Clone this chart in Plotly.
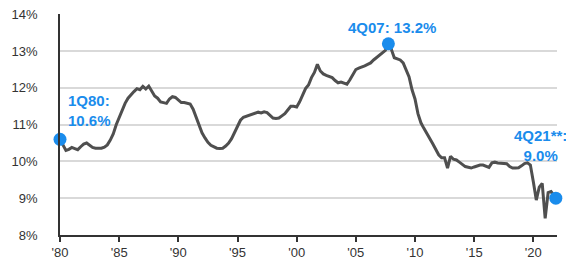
import plotly.graph_objects as go

# Quarter dates (decimal years) and debt service ratio values (%)
dates = [
    1980.0, 1980.25, 1980.5, 1980.75, 1981.0, 1981.25, 1981.5, 1981.75,
    1982.0, 1982.25, 1982.5, 1982.75, 1983.0, 1983.25, 1983.5, 1983.75,
    1984.0, 1984.25, 1984.5, 1984.75, 1985.0, 1985.25, 1985.5, 1985.75,
    1986.0, 1986.25, 1986.5, 1986.75, 1987.0, 1987.25, 1987.5, 1987.75,
    1988.0, 1988.25, 1988.5, 1988.75, 1989.0, 1989.25, 1989.5, 1989.75,
    1990.0, 1990.25, 1990.5, 1990.75, 1991.0, 1991.25, 1991.5, 1991.75,
    1992.0, 1992.25, 1992.5, 1992.75, 1993.0, 1993.25, 1993.5, 1993.75,
    1994.0, 1994.25, 1994.5, 1994.75, 1995.0, 1995.25, 1995.5, 1995.75,
    1996.0, 1996.25, 1996.5, 1996.75, 1997.0, 1997.25, 1997.5, 1997.75,
    1998.0, 1998.25, 1998.5, 1998.75, 1999.0, 1999.25, 1999.5, 1999.75,
    2000.0, 2000.25, 2000.5, 2000.75, 2001.0, 2001.25, 2001.5, 2001.75,
    2002.0, 2002.25, 2002.5, 2002.75, 2003.0, 2003.25, 2003.5, 2003.75,
    2004.0, 2004.25, 2004.5, 2004.75, 2005.0, 2005.25, 2005.5, 2005.75,
    2006.0, 2006.25, 2006.5, 2006.75, 2007.0, 2007.25, 2007.5, 2007.75,
    2008.0, 2008.25, 2008.5, 2008.75, 2009.0, 2009.25, 2009.5, 2009.75,
    2010.0, 2010.25, 2010.5, 2010.75, 2011.0, 2011.25, 2011.5, 2011.75,
    2012.0, 2012.25, 2012.5, 2012.75, 2013.0, 2013.25, 2013.5, 2013.75,
    2014.0, 2014.25, 2014.5, 2014.75, 2015.0, 2015.25, 2015.5, 2015.75,
    2016.0, 2016.25, 2016.5, 2016.75, 2017.0, 2017.25, 2017.5, 2017.75,
    2018.0, 2018.25, 2018.5, 2018.75, 2019.0, 2019.25, 2019.5, 2019.75,
    2020.0, 2020.25, 2020.5, 2020.75, 2021.0, 2021.25, 2021.5, 2021.9,
]
values = [
    10.60, 10.45, 10.30, 10.33, 10.38, 10.35, 10.32, 10.40,
    10.47, 10.50, 10.43, 10.38, 10.36, 10.35, 10.36, 10.39,
    10.45, 10.58, 10.75, 11.00, 11.20, 11.42, 11.58, 11.72,
    11.82, 11.90, 11.98, 11.95, 12.04, 11.97, 12.05, 11.90,
    11.78, 11.72, 11.62, 11.60, 11.58, 11.70, 11.76, 11.74,
    11.66, 11.60, 11.60, 11.58, 11.56, 11.42, 11.20, 10.95,
    10.78, 10.64, 10.52, 10.44, 10.40, 10.36, 10.35, 10.36,
    10.42, 10.50, 10.62, 10.80, 10.95, 11.12, 11.20, 11.23,
    11.26, 11.28, 11.30, 11.34, 11.32, 11.35, 11.33, 11.25,
    11.18, 11.17, 11.18, 11.24, 11.30, 11.40, 11.50, 11.50,
    11.48, 11.62, 11.80, 11.98, 12.08, 12.28, 12.42, 12.64,
    12.46, 12.38, 12.34, 12.32, 12.28, 12.20, 12.14, 12.16,
    12.14, 12.10, 12.22, 12.36, 12.50, 12.54, 12.56, 12.60,
    12.64, 12.68, 12.76, 12.82, 12.88, 12.94, 13.02, 13.20,
    13.05, 12.82, 12.80, 12.76, 12.68, 12.50, 12.30, 11.95,
    11.70, 11.30, 11.05, 10.90, 10.77, 10.62, 10.48, 10.33,
    10.18, 10.10, 10.10, 9.82, 10.14, 10.06, 10.04, 9.98,
    9.92, 9.86, 9.84, 9.82, 9.85, 9.88, 9.90, 9.90,
    9.87, 9.84, 9.96, 9.98, 9.96, 9.96, 9.96, 9.94,
    9.86, 9.82, 9.82, 9.83, 9.88, 9.94, 9.96, 9.90,
    9.45, 8.95, 9.30, 9.40, 8.45, 9.15, 9.18, 9.00,
]

# Highlighted points and their labels
hl_dates = [1980.0, 2007.75, 2021.9]
hl_values = [10.6, 13.2, 9.0]
hl_labels = ["1Q80:<br>10.6%", "4Q07: 13.2%", "4Q21**:<br>9.0%"]

y_ticks = [8, 9, 10, 11, 12, 13, 14]
y_tick_labels = ["8%", "9%", "10%", "11%", "12%", "13%", "14%"]
x_ticks = [1980, 1985, 1990, 1995, 2000, 2005, 2010, 2015, 2020]
x_tick_labels = ["'80", "'85", "'90", "'95", "'00", "'05", "'10", "'15", "'20"]

BLUE = "#1a8cec"

fig = go.Figure()
fig.add_trace(go.Scatter(
    x=dates, y=values, mode="lines",
    line=dict(color="#4f4f4f", width=3),
    hoverinfo="skip", showlegend=False,
))
fig.add_trace(go.Scatter(
    x=hl_dates, y=hl_values, mode="markers",
    marker=dict(color=BLUE, size=13),
    cliponaxis=False, hoverinfo="skip", showlegend=False,
))

label_style = [
    dict(xanchor="left", xshift=6, yshift=29, align="left"),
    dict(xanchor="center", xshift=4, yshift=16, align="center"),
    dict(xanchor="center", xshift=-15, yshift=53, align="center"),
]
for d, v, t, s in zip(hl_dates, hl_values, hl_labels, label_style):
    bold = "<b>" + t.replace("<br>", "</b><br><b>") + "</b>"
    fig.add_annotation(
        x=d, y=v, text=bold, showarrow=False, yanchor="middle",
        font=dict(family="Liberation Sans, Arial", size=15, color=BLUE),
        **s,
    )

fig.update_layout(
    width=574, height=262,
    margin=dict(l=52, r=25, t=6, b=35, autoexpand=False),
    paper_bgcolor="white", plot_bgcolor="white",
    font=dict(family="Liberation Sans, Arial", size=13, color="#333333"),
    xaxis=dict(
        range=[1980, 2022.0], tickmode="array",
        tickvals=x_ticks, ticktext=x_tick_labels,
        showgrid=False, zeroline=False, automargin=False,
        showline=True, linecolor="#333333", linewidth=1.5,
        ticks="outside", ticklen=5, tickcolor="#333333", tickwidth=1.5,
        tickfont=dict(size=13, color="#333333"),
    ),
    yaxis=dict(
        range=[7.999, 14.01], tickmode="array",
        tickvals=y_ticks, ticktext=y_tick_labels,
        showgrid=True, gridcolor="#d9d9d9", gridwidth=1.5,
        zeroline=False, automargin=False,
        showline=True, linecolor="#333333", linewidth=1.5,
        ticks="", ticklabelstandoff=18, ticklabeloverflow="allow",
        tickfont=dict(size=13, color="#333333"),
    ),
)

fig.write_html("out.html")
